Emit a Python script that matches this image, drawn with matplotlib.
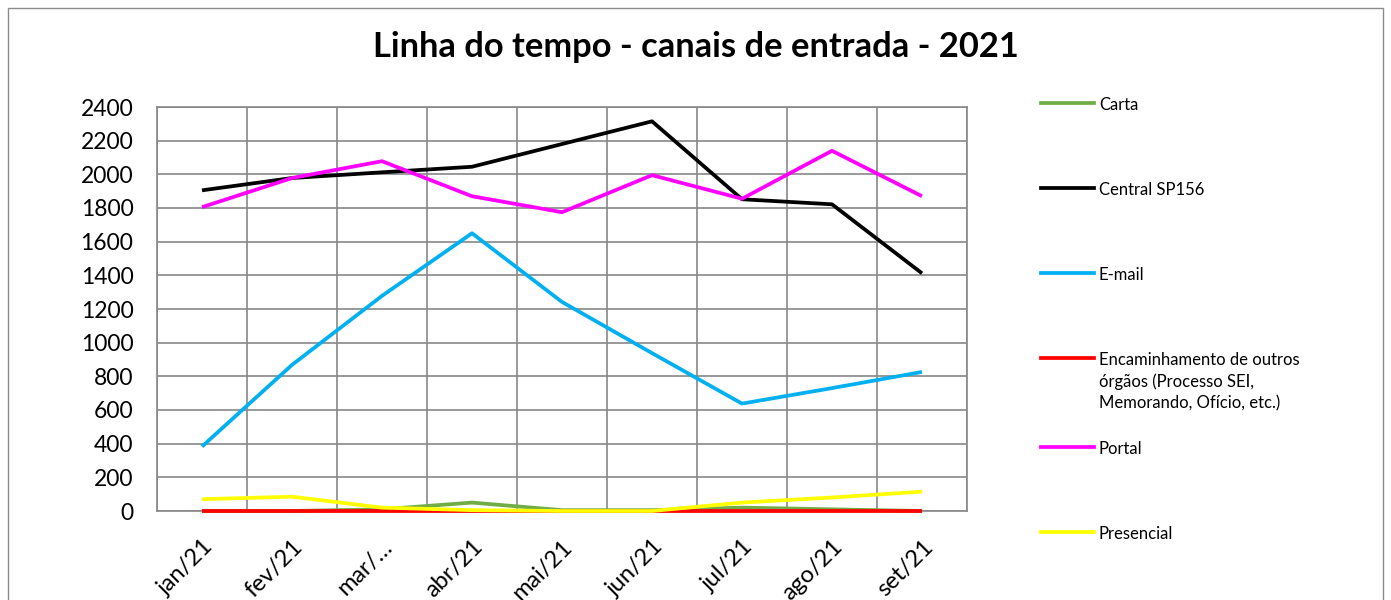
import matplotlib.pyplot as plt
from matplotlib.lines import Line2D
from matplotlib.patches import Rectangle

plt.rcParams['font.family'] = ['Lato', 'DejaVu Sans']

# data
months = ['jan/21', 'fev/21', 'mar/…', 'abr/21', 'mai/21', 'jun/21', 'jul/21', 'ago/21', 'set/21']
carta = [0, 0, 10, 50, 5, 5, 20, 10, 0]
central_sp156 = [1905, 1978, 2012, 2045, 2180, 2315, 1852, 1822, 1412]
email = [383, 868, 1278, 1650, 1242, 938, 638, 730, 826]
encaminhamento = [0, 0, 0, 0, 0, 0, 0, 0, 0]
portal = [1805, 1978, 2078, 1870, 1775, 1995, 1855, 2140, 1870]
presencial = [70, 85, 20, 5, 0, 0, 50, 80, 115]

series = [
    ('Carta', carta, '#70AD47'),
    ('Central SP156', central_sp156, '#000000'),
    ('E-mail', email, '#00B0F0'),
    ('Encaminhamento de outros\nórgãos (Processo SEI,\nMemorando, Ofício, etc.)', encaminhamento, '#FF0000'),
    ('Portal', portal, '#FF00FF'),
    ('Presencial', presencial, '#FFFF00'),
]

W, H = 1391, 600
fig = plt.figure(figsize=(W / 100, H / 100), dpi=100)
ax = fig.add_axes([157 / W, 1 - 511 / H, (967 - 157) / W, (511 - 107) / H])

x = list(range(len(months)))
for name, vals, color in series:
    ax.plot(x, vals, color=color, linewidth=2.7, clip_on=False,
            solid_capstyle='butt', zorder=3)

ax.set_xlim(-0.5, len(months) - 0.5)
ax.set_ylim(0, 2400)
ax.set_yticks(range(0, 2401, 200))
ax.set_xticks(x)
ax.set_xticklabels(months, rotation=45, ha='right', rotation_mode='anchor', fontsize=17)
ax.set_xticks([i - 0.5 for i in range(len(months) + 1)], minor=True)
ax.tick_params(axis='x', which='both', length=0, pad=18)
ax.tick_params(axis='y', length=0, labelsize=16.5, pad=17)
ax.grid(True, which='major', axis='y', color='#888888', linewidth=1.2)
ax.grid(True, which='minor', axis='x', color='#888888', linewidth=1.2)
ax.set_axisbelow(True)
for sp in ax.spines.values():
    sp.set_color('#888888')
    sp.set_linewidth(1.2)

fig.text(0.5, 1 - 47 / H, 'Linha do tempo - canais de entrada - 2021',
         ha='center', va='center', fontsize=24.8, fontweight='bold')

# legend drawn by hand, like Excel's spaced entries
for i, (name, vals, color) in enumerate(series):
    yy = 103 + 85 * i + (4 if i >= 4 else 0)
    fig.add_artist(Line2D([1041 / W, 1094 / W], [1 - yy / H, 1 - yy / H],
                          color=color, linewidth=2.7, transform=fig.transFigure))
    fig.text(1099 / W, 1 - (yy - 6) / H, name, ha='left', va='top',
             fontsize=12, linespacing=1.4)

fig.add_artist(Rectangle((8 / W, -0.1), (1383 - 8) / W, 1.1 - 8 / H,
                         fill=False, edgecolor='#8c8c8c', linewidth=1.0,
                         transform=fig.transFigure))

fig.savefig('out.png', dpi=100)
